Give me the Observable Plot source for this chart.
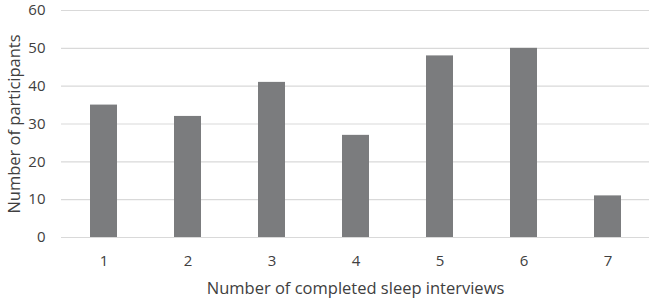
<!DOCTYPE html>
<html><head><meta charset="utf-8">
<script src="https://cdn.jsdelivr.net/npm/d3@7"></script>
<script src="https://cdn.jsdelivr.net/npm/@observablehq/plot@0.6"></script>
<style>body{margin:0;background:#fff;} svg{font-family:"Open Sans",sans-serif;}</style>
</head><body><div id="chart"></div>
<script>
const interviews = ["1","2","3","4","5","6","7"];
const participants = [35, 32, 41, 27, 48, 50, 11];
const yTicks = [0,10,20,30,40,50,60];
const data = interviews.map((k,i)=>({k, v: participants[i]}));
const chart = Plot.plot({
  width: 650, height: 300,
  marginLeft: 61, marginRight: 1, marginTop: 10, marginBottom: 63,
  style: {fontSize: "15px", color: "#404040", fontFamily: "Open Sans, sans-serif", overflow: "visible"},
  x: {domain: interviews, paddingInner: 0.68, paddingOuter: 0.34, label: null, tickSize: 0, tickPadding: 18},
  y: {domain: [0, 60], ticks: yTicks, label: null, tickSize: 0, tickPadding: 16},
  marks: [
    Plot.gridY(yTicks, {stroke: "#d9d9d9", strokeOpacity: 1, strokeWidth: 1.2}),
    Plot.barY(data, {x: "k", y: "v", fill: "#7b7c7e"}),
    Plot.axisX({tickSize: 0, tickPadding: 18, fontSize: 15}),
    Plot.axisY(yTicks, {tickSize: 0, tickPadding: 16, fontSize: 15}),
    Plot.text(["Number of completed sleep interviews"], {frameAnchor: "bottom", dy: 56, fontSize: 16.5, fill: "#404040"}),
    Plot.text(["Number of participants"], {frameAnchor: "left", textAnchor: "middle", dx: -47, rotate: -90, fontSize: 16.5, fill: "#404040"})
  ]
});
document.getElementById("chart").append(chart);
</script></body></html>
